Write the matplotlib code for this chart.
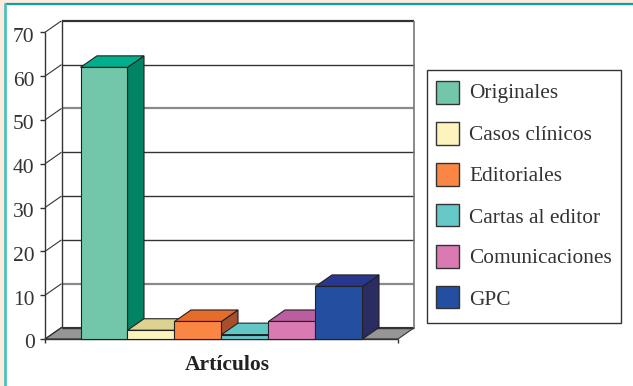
import matplotlib
matplotlib.use("Agg")
import matplotlib.pyplot as plt
from matplotlib.patches import Polygon, Rectangle

categories = ["Originales", "Casos clínicos", "Editoriales", "Cartas al editor", "Comunicaciones", "GPC"]
values = [62, 2, 4, 1, 4, 12]
front_colors = ["#72c7ab", "#fdf3bf", "#f98642", "#66c8c8", "#d97ab3", "#244fa0"]
top_colors = ["#00b08c", "#ddd38f", "#e66c2c", "#62c5c6", "#b95f9f", "#28388f"]
side_colors = ["#008463", "#c5bb80", "#a94f2b", "#4aa5a6", "#9c4f88", "#2b2d62"]
y_ticks = [0, 10, 20, 30, 40, 50, 60, 70]
x_title = "Artículos"

W, H = 633, 386
plt.rcParams["font.family"] = ["Liberation Serif", "DejaVu Serif"]
fig = plt.figure(figsize=(W / 100, H / 100), dpi=100, facecolor="#fdebe0")

# Page panel with its teal rules along the top and left
panel = fig.add_axes([0, 0, 1, 1], zorder=0)
panel.set_xlim(0, W)
panel.set_ylim(H, 0)
panel.axis("off")
panel.add_patch(Rectangle((4, 3), W, H, fc="white", ec="none"))
panel.plot([5, W], [4, 4], color="#0f9f9f", lw=1.6, solid_capstyle="butt")
panel.plot([5, 5], [3, H], color="#4fc0bc", lw=2.0, solid_capstyle="butt")

# Front plane of the 3-D plot; each category is one unit wide
left, right, bottom, top = 45.0, 398.0, 339.0, 32.3
bar_px = 47.0
first_px = 80.5
px_per_unit = (bottom - top) / 70
ax = fig.add_axes([left / W, 1 - bottom / H, (right - left) / W, (bottom - top) / H], zorder=1)
ax.set_xlim((left - first_px) / bar_px, (right - first_px) / bar_px)
ax.set_ylim(0, 70)
ax.axis("off")

# Depth offset of the back wall, in data units
dx = 16.5 / bar_px
dy = 11.5 / px_per_unit
x0, x1 = ax.get_xlim()


def poly(points, **kw):
    ax.add_patch(Polygon(points, closed=True, clip_on=False, **kw))


def line(xs, ys, color="#333333", lw=1.0, z=1):
    ax.plot(xs, ys, color=color, lw=lw, clip_on=False, zorder=z, solid_capstyle="butt")


# Grey floor
poly([(x0, 0), (x1, 0), (x1 + dx, dy), (x0 + dx, dy)], fc="#969696", ec="#333333", lw=0.8, zorder=1)

# Back wall gridlines, left wall and tick labels
for t in y_ticks:
    heavy = t == 70
    soft = t in (10, 50)
    line([x0 + dx, x1 + dx], [t + dy, t + dy], color="#8a8a8a" if soft else "#333333", lw=1.6 if heavy or soft else 1.0)
    line([x0, x0 + dx], [t, t + dy], lw=0.8)
    line([x0 - 5 / bar_px, x0], [t, t], lw=1.0)
    ax.text(x0 - 10.5 / bar_px, t - 9.5 / px_per_unit, str(t), ha="right", va="baseline", fontsize=15.5, color="#333333")
line([x0, x0], [0, 70], lw=1.0)
line([x0 + dx, x0 + dx], [dy, 70 + dy], lw=1.0)
line([x1 + dx, x1 + dx], [dy, 70 + dy], color="#777777", lw=1.2)

# Front axis with its end ticks
line([x0, x1], [0, 0], lw=1.0, z=2)
for tx in (x0, x1):
    line([tx, tx], [0, -1.0], lw=1.0, z=2)

# Bars, painted from left to right
edge = dict(ec="#222222", lw=0.8, joinstyle="miter")
for i, v in enumerate(values):
    z = 3 + i
    poly([(i + 1, 0), (i + 1 + dx, dy), (i + 1 + dx, v + dy), (i + 1, v)], fc=side_colors[i], zorder=z, **edge)
    poly([(i, v), (i + 1, v), (i + 1 + dx, v + dy), (i + dx, v + dy)], fc=top_colors[i], zorder=z, **edge)
    poly([(i, 0), (i + 1, 0), (i + 1, v), (i, v)], fc=front_colors[i], zorder=z + 0.5, **edge)

ax.text((227.5 - first_px) / bar_px, -31 / px_per_unit, x_title, ha="center", va="baseline",
        fontsize=15.5, fontweight="bold", color="#222222")

# Legend box
panel.add_patch(Rectangle((426.8, 70), 193.8, 253, fc="white", ec="#333333", lw=1.0, zorder=2))
swatch_tops = [81, 122, 163, 203.5, 245, 285.5]
baselines = [98, 140, 180.7, 222.7, 263, 305]
for name, col, sy, by in zip(categories, front_colors, swatch_tops, baselines):
    panel.add_patch(Rectangle((436, sy), 23, 22.5, fc=col, ec="#333333", lw=1.0, zorder=3))
    panel.text(469, by, name, ha="left", va="baseline", fontsize=15.4, color="#333333", zorder=3)

fig.savefig("out.png", dpi=100, facecolor=fig.get_facecolor())
